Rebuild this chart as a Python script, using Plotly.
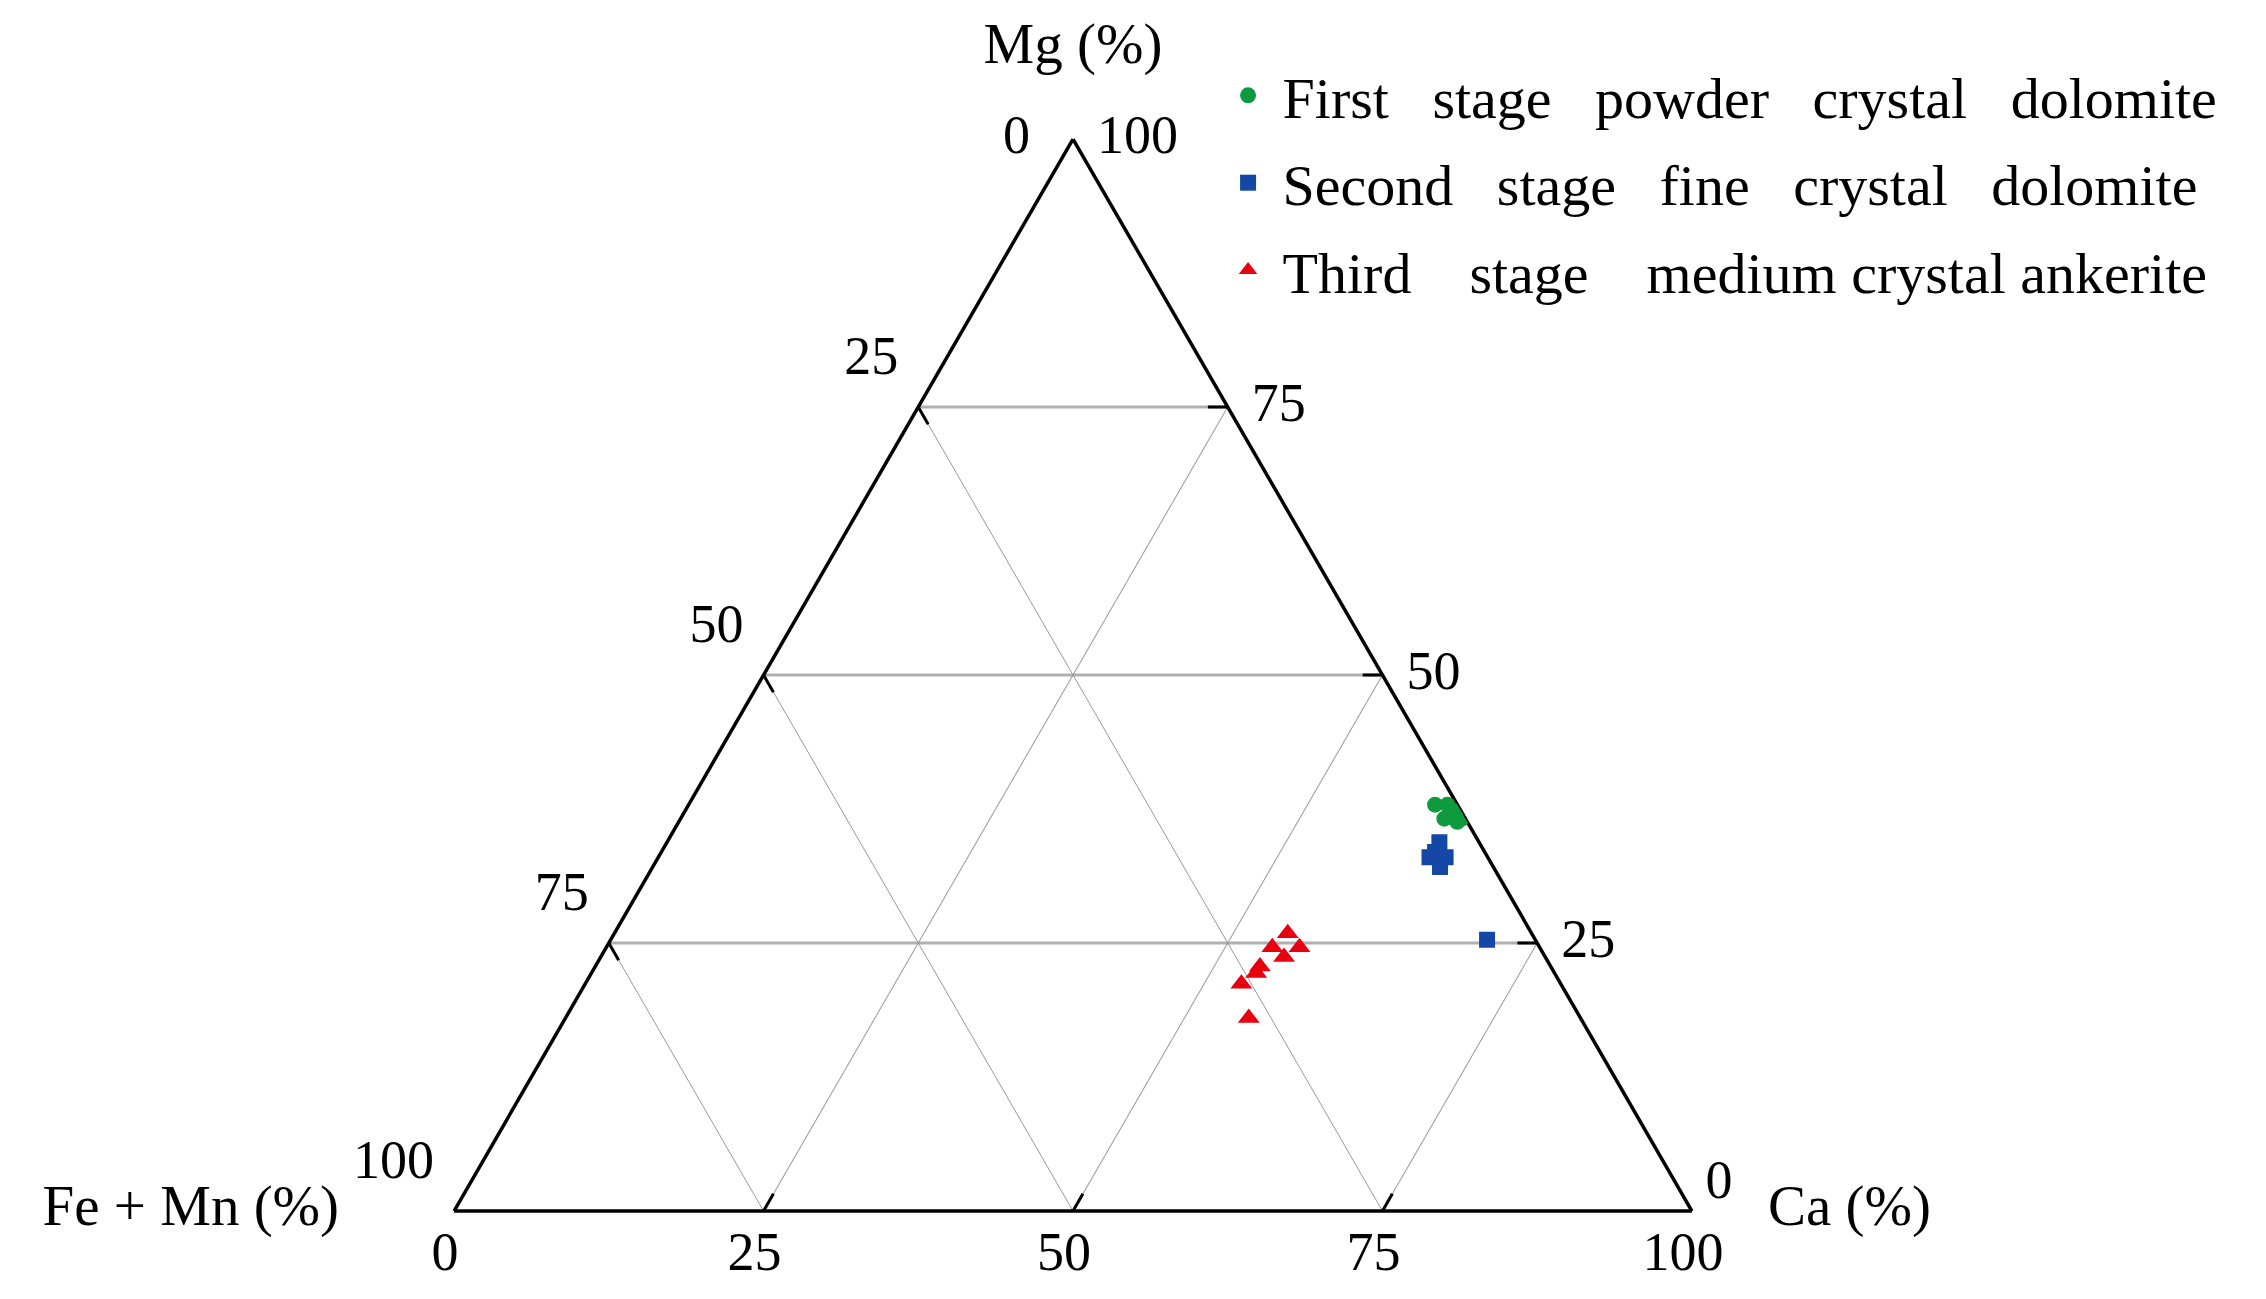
import plotly.graph_objects as go

# ---- data (percent) ----
first_mg = [37.9, 37.9, 37.3, 36.6, 36.3, 36.6]
first_ca = [60.3, 61.3, 62.3, 61.7, 62.9, 63.1]
first_fe = [1.8, 0.8, 0.4, 1.7, 0.8, 0.3]

second_mg = [34.4, 33.0, 33.0, 32.1, 33.5, 25.3]
second_ca = [62.4, 62.3, 63.6, 63.6, 62.5, 70.8]
second_fe = [3.2, 4.7, 3.4, 4.3, 4.0, 3.9]

third_mg = [25.9, 24.6, 24.6, 23.7, 22.8, 22.2, 21.2, 18.0]
third_ca = [54.4, 53.8, 56.0, 55.2, 53.7, 53.7, 53.0, 55.2]
third_fe = [19.7, 21.6, 19.4, 21.1, 23.5, 24.1, 25.8, 26.8]

tick_vals = [0, 25, 50, 75, 100]
inner_ticks = [25, 50, 75]
tick_labels = ["0", "25", "50", "75", "100"]

NB = "\u00a0"
def spaced(words, gaps):
    out = NB + words[0]
    for w, g in zip(words[1:], gaps):
        out += NB * g + w
    return out

names = [spaced(["First", "stage", "powder", "crystal", "dolomite"], [3, 3, 3, 3]),
         spaced(["Second", "stage", "fine", "crystal", "dolomite"], [3, 3, 3, 3]),
         spaced(["Third", "stage", "medium", "crystal", "ankerite"], [4, 4, 1, 1])]

FONT = "Liberation Serif"
TICK_FS = 54
TITLE_FS = 57

def pad(r):
    # invisible marker size that gives a text offset of r px
    return max((r - 1) * 1.6, 0)

fig = go.Figure()

# ---- data traces ----
fig.add_trace(go.Scatterternary(a=first_mg, b=first_fe, c=first_ca, mode="markers",
                                name=names[0], legendgroup="g1",
                                marker=dict(symbol="circle", size=16, color="#0e9a3e")))
fig.add_trace(go.Scatterternary(a=second_mg, b=second_fe, c=second_ca, mode="markers",
                                name=names[1], legendgroup="g2",
                                marker=dict(symbol="square", size=16, color="#1548a6")))
fig.add_trace(go.Scatterternary(a=third_mg, b=third_fe, c=third_ca, mode="markers",
                                name=names[2], legendgroup="g3",
                                marker=dict(symbol="triangle-up", size=19, color="#e8000e")))

# ---- inside tick marks, drawn along each component's own grid line ----
L = 1.6
ta, tb, tc = [], [], []
for v in inner_ticks:
    # Mg ticks on the right edge
    ta += [v, v, None]; tb += [0, L, None]; tc += [100 - v, 100 - v - L, None]
    # Fe+Mn ticks on the left edge
    ta += [100 - v, 100 - v - L, None]; tb += [v, v, None]; tc += [0, L, None]
    # Ca ticks on the bottom edge
    ta += [0, L, None]; tb += [100 - v, 100 - v - L, None]; tc += [v, v, None]
fig.add_trace(go.Scatterternary(a=ta, b=tb, c=tc, mode="lines", showlegend=False,
                                hoverinfo="skip", connectgaps=False,
                                line=dict(color="black", width=3)))

def inv(sizes):
    return dict(size=sizes, color="rgba(0,0,0,0)", line=dict(width=0, color="rgba(0,0,0,0)"))

# Fe + Mn labels (left edge)
fig.add_trace(go.Scatterternary(
    a=[100 - v for v in tick_vals], b=tick_vals, c=[0] * 5,
    mode="markers+text", text=tick_labels, showlegend=False, hoverinfo="skip",
    cliponaxis=False,
    textposition=["middle left", "top left", "top left", "top left", "top left"],
    marker=inv([pad(43), pad(20), pad(20), pad(20), pad(20)]),
    textfont=dict(family=FONT, size=TICK_FS, color="black")))

# Mg labels (right edge)
fig.add_trace(go.Scatterternary(
    a=tick_vals, b=[0] * 5, c=[100 - v for v in tick_vals],
    mode="markers+text", text=[NB + tick_labels[0]] + tick_labels[1:],
    showlegend=False, hoverinfo="skip", cliponaxis=False,
    textposition=["top right", "middle right", "middle right", "middle right", "middle right"],
    marker=inv([pad(1), pad(24), pad(24), pad(24), pad(24)]),
    textfont=dict(family=FONT, size=TICK_FS, color="black")))

# Ca labels (bottom edge)
fig.add_trace(go.Scatterternary(
    a=[0] * 5, b=[100 - v for v in tick_vals], c=tick_vals,
    mode="markers+text", text=[t + "\u00a0\u200a" for t in tick_labels],
    showlegend=False, hoverinfo="skip",
    cliponaxis=False, textposition="bottom center",
    marker=inv(pad(18)),
    textfont=dict(family=FONT, size=TICK_FS, color="black")))

# axis titles at the corners
fig.add_trace(go.Scatterternary(
    a=[100, 0, 0], b=[0, 100, 0], c=[0, 0, 100],
    mode="markers+text", text=["Mg (%)", "Fe + Mn (%)", "Ca (%)"],
    showlegend=False, hoverinfo="skip", cliponaxis=False,
    textposition=["top center", "middle left", "middle right"],
    marker=inv([pad(62), pad(115), pad(76)]),
    textfont=dict(family=FONT, size=TITLE_FS, color="black")))


def axis(grid_w, grid_c):
    return dict(
        title=dict(text=""),
        min=0, tickmode="array", tickvals=inner_ticks,
        showticklabels=False, ticks="",
        linecolor="black", linewidth=3.5, showline=True,
        showgrid=True, gridcolor=grid_c, gridwidth=grid_w,
        layer="below traces",
    )

fig.update_layout(
    width=2266, height=1299,
    paper_bgcolor="white", plot_bgcolor="white",
    margin=dict(l=0, r=136, t=131, b=96),
    ternary=dict(
        sum=100, bgcolor="white",
        aaxis=axis(2.5, "#b0b0b0"),
        baxis=axis(1, "#9a9a9a"),
        caxis=axis(1, "#9a9a9a"),
    ),
    legend=dict(x=0.5728, y=1.082, xanchor="left", yanchor="top",
                font=dict(family=FONT, size=58, color="black"),
                traceorder="grouped", tracegroupgap=9,
                bgcolor="rgba(0,0,0,0)"),
    showlegend=True,
)

fig.write_html("out.html")
